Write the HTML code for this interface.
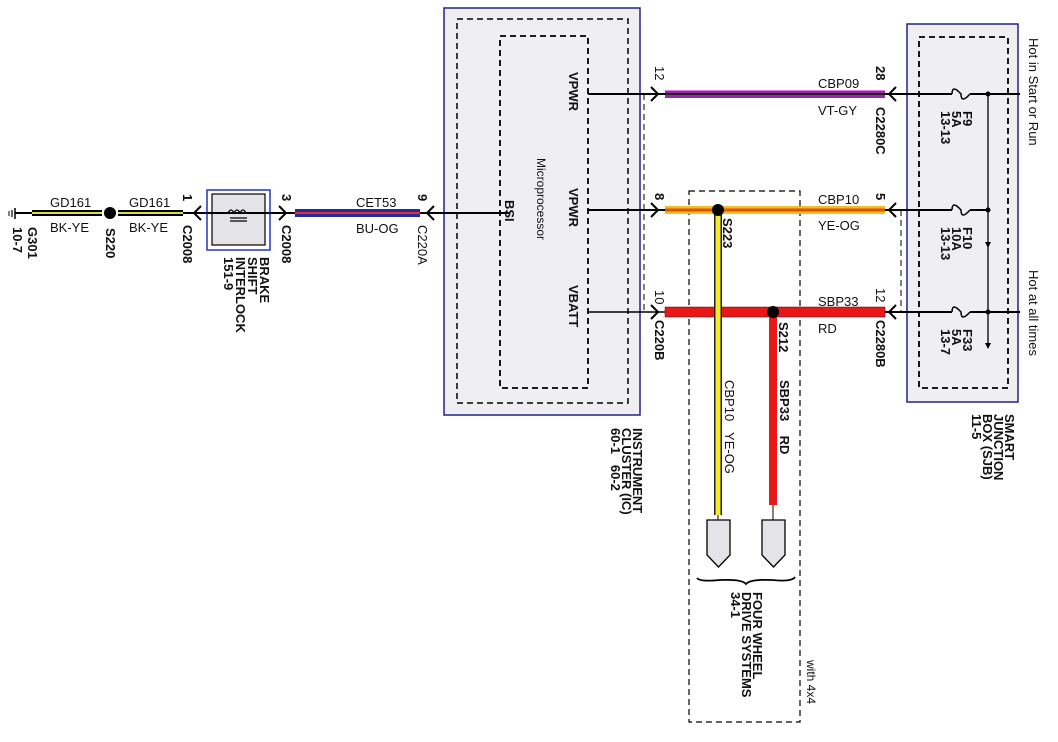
<!DOCTYPE html>
<html><head><meta charset="utf-8"><style>
html,body{margin:0;padding:0;background:#fff;}
svg{display:block;}
text{font-family:"Liberation Sans",Arial,sans-serif;font-size:13px;fill:#111;}
.b{font-weight:bold;}
</style></head><body>
<svg width="1058" height="742" viewBox="0 0 1058 742" xmlns="http://www.w3.org/2000/svg">
<!-- IC box -->
<rect x="444" y="8" width="196" height="407" fill="#efeff2" stroke="#22228a" stroke-width="1.5"/>
<rect x="457" y="19" width="171" height="384" fill="none" stroke="#000" stroke-width="1.5" stroke-dasharray="6,4"/>
<rect x="500" y="36" width="88" height="352" fill="none" stroke="#000" stroke-width="1.8" stroke-dasharray="6,4"/>
<!-- SJB box -->
<rect x="907" y="24" width="111" height="378" fill="#efeff2" stroke="#22228a" stroke-width="1.5"/>
<rect x="919" y="37" width="89" height="351" fill="none" stroke="#000" stroke-width="1.8" stroke-dasharray="6,4"/>
<!-- 4x4 dashed box -->
<rect x="689" y="191" width="111" height="531" fill="none" stroke="#000" stroke-width="1.2" stroke-dasharray="6,4"/>
<line x1="644" y1="94" x2="644" y2="312" stroke="#000" stroke-width="1" stroke-dasharray="6,4"/>
<line x1="901" y1="210" x2="901" y2="312" stroke="#000" stroke-width="1" stroke-dasharray="6,4"/>

<!-- Left chain -->
<line x1="15" y1="208" x2="15" y2="219" stroke="#000" stroke-width="1.5"/>
<line x1="12" y1="210" x2="12" y2="217" stroke="#000" stroke-width="1.2"/>
<line x1="9" y1="211" x2="9" y2="216" stroke="#000" stroke-width="1"/>
<line x1="15" y1="213" x2="32" y2="213" stroke="#000" stroke-width="2"/>
<rect x="32" y="210" width="70" height="6" fill="#000"/><rect x="32" y="212" width="70" height="2" fill="#d8e040"/>
<circle cx="110" cy="213" r="6" fill="#000"/>
<rect x="118" y="210" width="65" height="6" fill="#000"/><rect x="118" y="212" width="65" height="2" fill="#d8e040"/>
<line x1="183" y1="213" x2="295" y2="213" stroke="#000" stroke-width="2"/>
<path d="M201 206 L194 213 L201 220" fill="none" stroke="#000" stroke-width="2"/>
<rect x="207" y="190" width="63" height="60" fill="#fff" stroke="#2233cc" stroke-width="1.5"/>
<rect x="212" y="194" width="53" height="51" fill="#e4e4e8" stroke="#000" stroke-width="1.2"/>
<line x1="207" y1="213" x2="270" y2="213" stroke="#000" stroke-width="2"/>
<path d="M228 213 q3 -6 6 0 q3 -6 6 0 q3 -6 6 0" fill="none" stroke="#000" stroke-width="1.3"/>
<line x1="230" y1="218" x2="247" y2="218" stroke="#000" stroke-width="1.3"/>
<line x1="230" y1="221" x2="247" y2="221" stroke="#000" stroke-width="1.3"/>
<path d="M279 206 L286 213 L279 220" fill="none" stroke="#000" stroke-width="2"/>
<rect x="295" y="209" width="125" height="8" fill="#2a2aa0"/><rect x="295" y="212" width="125" height="2" fill="#e03030"/>
<line x1="420" y1="213" x2="510" y2="213" stroke="#000" stroke-width="2"/>
<path d="M434 206 L427 213 L434 220" fill="none" stroke="#000" stroke-width="2"/>

<!-- IC wires -->
<line x1="588" y1="94" x2="665" y2="94" stroke="#000" stroke-width="2"/>
<path d="M651 87 L658 94 L651 101" fill="none" stroke="#000" stroke-width="2"/>
<line x1="588" y1="210" x2="665" y2="210" stroke="#000" stroke-width="2"/>
<path d="M651 203 L658 210 L651 217" fill="none" stroke="#000" stroke-width="2"/>
<line x1="588" y1="312" x2="665" y2="312" stroke="#000" stroke-width="1.5"/>
<path d="M651 305 L658 312 L651 319" fill="none" stroke="#000" stroke-width="2"/>

<!-- colored wires -->
<rect x="665" y="90" width="220" height="8" fill="#9a2aa8"/><rect x="665" y="93" width="220" height="2" fill="#222"/><rect x="665" y="90" width="220" height="1" fill="#e080e0"/>
<rect x="665" y="206" width="220" height="8" fill="#f0c020"/><rect x="665" y="208.5" width="220" height="3" fill="#e05010"/>
<rect x="665" y="307" width="220" height="10" fill="#e81818"/><rect x="665" y="307" width="220" height="10" fill="none" stroke="#600" stroke-width="0.5"/>
<!-- verticals -->
<rect x="714" y="210" width="8" height="305" fill="#222"/><rect x="715.5" y="210" width="5" height="305" fill="#f8e830"/>
<rect x="769" y="312" width="8" height="193" fill="#e81818"/>
<circle cx="718" cy="210" r="6" fill="#000"/>
<circle cx="773" cy="312" r="6" fill="#000"/>
<line x1="718" y1="515" x2="718" y2="520" stroke="#000"/><line x1="773" y1="505" x2="773" y2="520" stroke="#000"/>
<path d="M707 520 L730 520 L730 555 L718.5 567 L707 555 Z" fill="#e4e4e8" stroke="#000" stroke-width="1.3"/>
<path d="M762 520 L785 520 L785 555 L773.5 567 L762 555 Z" fill="#e4e4e8" stroke="#000" stroke-width="1.3"/>
<path d="M697 578 Q700 582 720 580 Q742 579 746 584 Q750 579 772 580 Q792 582 795 577" fill="none" stroke="#000" stroke-width="1.8"/>

<!-- SJB wires -->
<g stroke="#000" stroke-width="2" fill="none">
<line x1="885" y1="94" x2="952" y2="94"/><line x1="970" y1="94" x2="1020" y2="94"/>
<path d="M952 94 q0 -10 9 0 q0 10 9 0" stroke-width="1.5"/>
<line x1="885" y1="210" x2="952" y2="210"/><line x1="970" y1="210" x2="988" y2="210"/>
<path d="M952 210 q0 -10 9 0 q0 10 9 0" stroke-width="1.5"/>
<line x1="885" y1="312" x2="952" y2="312"/><line x1="970" y1="312" x2="1020" y2="312"/>
<path d="M952 312 q0 -10 9 0 q0 10 9 0" stroke-width="1.5"/>
<line x1="988" y1="94" x2="988" y2="345" stroke-width="1.3"/>
<path d="M896 87 L889 94 L896 101"/><path d="M896 203 L889 210 L896 217"/><path d="M896 305 L889 312 L896 319"/>
</g>
<circle cx="988" cy="94" r="2.5" fill="#000"/><circle cx="988" cy="210" r="2.5" fill="#000"/><circle cx="988" cy="312" r="2.5" fill="#000"/>
<path d="M985 242 L991 242 L988 248 Z" fill="#000"/><path d="M985 343 L991 343 L988 349 Z" fill="#000"/>

<!-- horizontal labels -->
<text x="50" y="207">GD161</text><text x="50" y="232">BK-YE</text>
<text x="129" y="207">GD161</text><text x="129" y="232">BK-YE</text>
<text x="356" y="207">CET53</text><text x="356" y="233">BU-OG</text>
<text x="818" y="88">CBP09</text><text x="818" y="115">VT-GY</text>
<text x="818" y="204">CBP10</text><text x="818" y="230">YE-OG</text>
<text x="818" y="306">SBP33</text><text x="818" y="333">RD</text>

<!-- rotated labels -->
<g>
<text transform="translate(28,227) rotate(90)" class="b">G301</text>
<text transform="translate(13,227) rotate(90)" class="b">10-7</text>
<text transform="translate(106,228) rotate(90)" class="b">S220</text>
<text transform="translate(183,194) rotate(90)" class="b">1</text>
<text transform="translate(183,225) rotate(90)" class="b">C2008</text>
<text transform="translate(260,257) rotate(90)" class="b">BRAKE</text>
<text transform="translate(248,257) rotate(90)" class="b">SHIFT</text>
<text transform="translate(236,257) rotate(90)" class="b">INTERLOCK</text>
<text transform="translate(224,257) rotate(90)" class="b">151-9</text>
<text transform="translate(282,194) rotate(90)" class="b">3</text>
<text transform="translate(282,225) rotate(90)" class="b">C2008</text>
<text transform="translate(418,194) rotate(90)" class="b">9</text>
<text transform="translate(418,225) rotate(90)">C220A</text>
<text transform="translate(505,200) rotate(90)" class="b">BSI</text>
<text transform="translate(569,72) rotate(90)" class="b">VPWR</text>
<text transform="translate(569,188) rotate(90)" class="b">VPWR</text>
<text transform="translate(569,285) rotate(90)" class="b">VBATT</text>
<text transform="translate(537,158) rotate(90)" style="font-size:12px">Microprocessor</text>
<text transform="translate(655,66) rotate(90)">12</text>
<text transform="translate(655,193) rotate(90)" class="b">8</text>
<text transform="translate(655,290) rotate(90)">10</text>
<text transform="translate(655,320) rotate(90)" class="b">C220B</text>
<text transform="translate(876,66) rotate(90)" class="b">28</text>
<text transform="translate(876,107) rotate(90)" class="b">C2280C</text>
<text transform="translate(876,193) rotate(90)" class="b">5</text>
<text transform="translate(876,288) rotate(90)">12</text>
<text transform="translate(876,320) rotate(90)" class="b">C2280B</text>
<text transform="translate(963,111) rotate(90)" class="b">F9</text>
<text transform="translate(952,111) rotate(90)" class="b">5A</text>
<text transform="translate(941,111) rotate(90)" class="b">13-13</text>
<text transform="translate(963,227) rotate(90)" class="b">F10</text>
<text transform="translate(952,227) rotate(90)" class="b">10A</text>
<text transform="translate(941,227) rotate(90)" class="b">13-13</text>
<text transform="translate(963,329) rotate(90)" class="b">F33</text>
<text transform="translate(952,329) rotate(90)" class="b">5A</text>
<text transform="translate(941,329) rotate(90)" class="b">13-7</text>
<text transform="translate(1029,38) rotate(90)">Hot in Start or Run</text>
<text transform="translate(1029,270) rotate(90)">Hot at all times</text>
<text transform="translate(1005,414) rotate(90)" class="b">SMART</text>
<text transform="translate(994,414) rotate(90)" class="b">JUNCTION</text>
<text transform="translate(983,414) rotate(90)" class="b">BOX (SJB)</text>
<text transform="translate(972,414) rotate(90)" class="b">11-5</text>
<text transform="translate(723,218) rotate(90)" class="b">S223</text>
<text transform="translate(779,322) rotate(90)" class="b">S212</text>
<text transform="translate(725,380) rotate(90)">CBP10&#160;&#160;&#160;YE-OG</text>
<text transform="translate(780,380) rotate(90)" class="b">SBP33&#160;&#160;&#160;&#160;RD</text>
<text transform="translate(633,428) rotate(90)" class="b">INSTRUMENT</text>
<text transform="translate(622,428) rotate(90)" class="b">CLUSTER (IC)</text>
<text transform="translate(611,428) rotate(90)" class="b">60-1&#160;&#160;&#160;60-2</text>
<text transform="translate(753,592) rotate(90)" class="b">FOUR WHEEL</text>
<text transform="translate(742,592) rotate(90)" class="b">DRIVE SYSTEMS</text>
<text transform="translate(731,592) rotate(90)" class="b">34-1</text>
<text transform="translate(807,660) rotate(90)" style="font-size:12px">with 4x4</text>
</g>
</svg>
</body></html>
